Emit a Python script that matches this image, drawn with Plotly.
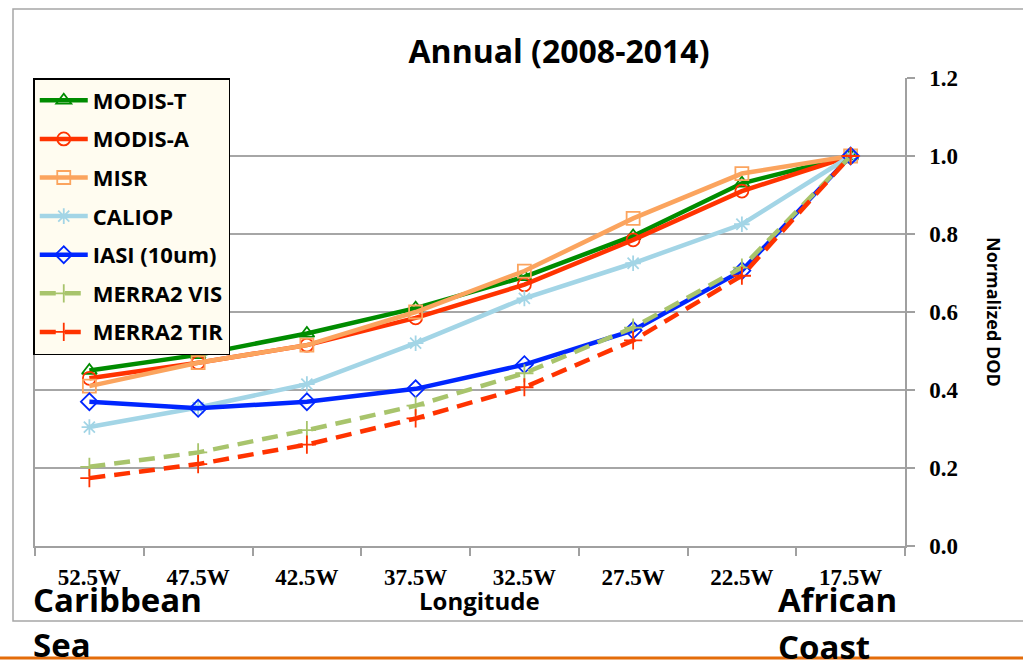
import plotly.graph_objects as go

categories = ["52.5W", "47.5W", "42.5W", "37.5W", "32.5W", "27.5W", "22.5W", "17.5W"]

modis_t = [0.45, 0.49, 0.545, 0.61, 0.69, 0.795, 0.93, 1.0]
modis_a = [0.43, 0.47, 0.515, 0.585, 0.67, 0.785, 0.91, 1.0]
misr = [0.41, 0.47, 0.515, 0.60, 0.705, 0.84, 0.955, 1.0]
caliop = [0.305, 0.355, 0.415, 0.52, 0.635, 0.725, 0.825, 1.0]
iasi = [0.37, 0.353, 0.37, 0.403, 0.465, 0.553, 0.706, 1.0]
merra2_vis = [0.203, 0.24, 0.297, 0.36, 0.443, 0.56, 0.714, 1.0]
merra2_tir = [0.174, 0.21, 0.26, 0.327, 0.407, 0.527, 0.693, 1.0]

y_ticks = [0, 0.2, 0.4, 0.6, 0.8, 1.0, 1.2]

series = [
    ("MODIS-T", modis_t, "#008C00", "triangle-up-open", "solid"),
    ("MODIS-A", modis_a, "#FF3300", "circle-open", "solid"),
    ("MISR", misr, "#FBA45E", "square-open", "solid"),
    ("CALIOP", caliop, "#A3D5E6", "asterisk-open", "solid"),
    ("IASI (10um)", iasi, "#0026FF", "diamond-open", "solid"),
    ("MERRA2 VIS", merra2_vis, "#A8C46C", "cross-thin-open", "16px,9px"),
    ("MERRA2 TIR", merra2_tir, "#FF3300", "cross-thin-open", "16px,9px"),
]

fig = go.Figure()
for i, (name, vals, color, sym, dash) in enumerate(series):
    fig.add_trace(go.Scatter(
        x=categories, y=vals, name=name, mode="lines+markers",
        legendgroup="g%d" % i,
        line=dict(color=color, width=4.5, dash=dash),
        marker=dict(symbol=sym, size=13, color=color, line=dict(color=color, width=1.8)),
    ))

sans = "Open Sans"
serif = "Liberation Serif"

fig.update_layout(
    width=1023, height=660,
    margin=dict(l=35, r=118, t=78, b=114),
    paper_bgcolor="white", plot_bgcolor="white",
    showlegend=True,
    title=dict(text="<b>Annual (2008-2014)</b>", x=559 / 1023,
               xanchor="center", y=1 - 52 / 660, yanchor="middle",
               font=dict(family=sans, size=32, color="black")),
    legend=dict(x=-0.002, y=1.0, xanchor="left", yanchor="top",
                bgcolor="#FFFCF0", bordercolor="black", borderwidth=1.5,
                font=dict(family=sans, size=22, color="black", weight="bold"),
                tracegroupgap=7, itemwidth=48),
    xaxis=dict(type="category", showgrid=False, showline=True, linecolor="#A0A0A0", linewidth=1.5,
               ticks="outside", tickson="boundaries", ticklen=8, tickcolor="#A0A0A0", tickwidth=1.5,
               tickfont=dict(family=serif, size=23, color="black"),
               ticklabelstandoff=10, range=[-0.5, 7.5],
               tickmode="array", tickvals=categories,
               ticktext=["<b>%s</b>" % c for c in categories]),
    yaxis=dict(side="right", range=[0, 1.2],
               showgrid=True, gridcolor="#A6A6A6", gridwidth=1.5,
               showline=True, linecolor="#A0A0A0", linewidth=1.5, mirror=True,
               ticks="outside", ticklen=8, tickcolor="#A0A0A0", tickwidth=1.5,
               tickfont=dict(family=serif, size=23, color="black"),
               ticklabelstandoff=10, zeroline=False,
               tickmode="array", tickvals=y_ticks,
               ticktext=["<b>%.1f</b>" % v for v in y_ticks]),
)

# chart frame and orange bottom line
fig.add_shape(type="rect", xref="paper", yref="paper",
              x0=(13 - 35) / 870, x1=(1030 - 35) / 870, y0=(546 - 621) / 468, y1=(546 - 9) / 468,
              line=dict(color="#A6A6A6", width=1.5), layer="below")
fig.add_shape(type="line", xref="paper", yref="paper",
              x0=-35 / 870, x1=(1023 - 35) / 870, y0=(546 - 658) / 468, y1=(546 - 658) / 468,
              line=dict(color="#E46C0A", width=3))


def px_to_paper(px, py):
    return (px - 35) / 870, (546 - py) / 468


ann = [
    ("<b>Longitude</b>", 479, 600, 24, "center"),
    ("<b>Caribbean</b>", 31, 599, 33, "left"),
    ("<b>Sea</b>", 31, 644, 33, "left"),
    ("<b>African</b>", 776, 599, 33, "left"),
    ("<b>Coast</b>", 776, 646, 33, "left"),
]
for text, px, py, size, anchor in ann:
    xp, yp = px_to_paper(px, py)
    fig.add_annotation(text=text, xref="paper", yref="paper", x=xp, y=yp,
                       xanchor=anchor, yanchor="middle", showarrow=False,
                       font=dict(family=sans, size=size, color="black"))

xp, yp = px_to_paper(994, 312)
fig.add_annotation(text="<b>Normalized DOD</b>", xref="paper", yref="paper", x=xp, y=yp,
                   xanchor="center", yanchor="middle", showarrow=False, textangle=90,
                   font=dict(family=sans, size=18, color="black"))

fig.write_html("out.html", config={"displayModeBar": False},
               post_script="document.body.style.margin='0';document.body.style.overflow='hidden';")
